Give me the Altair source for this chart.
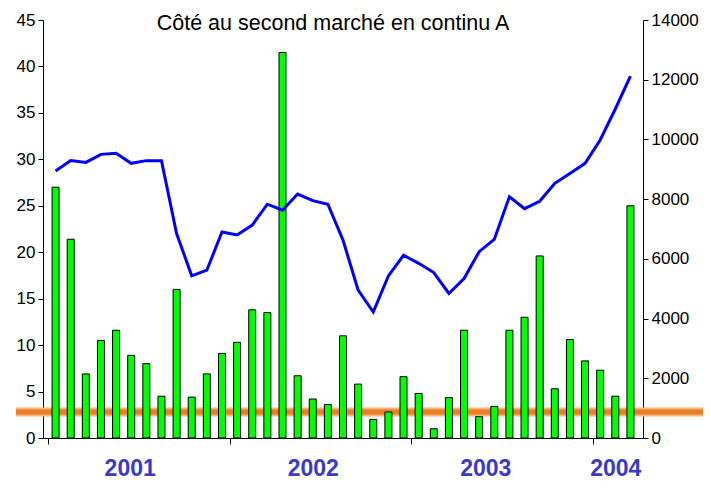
import altair as alt
import pandas as pd

# Monthly data, Jan 2001 .. Mar 2004
volume = [27.0, 21.4, 6.9, 10.5, 11.6, 8.9, 8.0, 4.5, 16.0, 4.4,
          6.9, 9.1, 10.3, 13.8, 13.5, 41.5, 6.7, 4.2, 3.6, 11.0,
          5.8, 2.0, 2.8, 6.6, 4.8, 1.0, 4.35, 11.6, 2.3, 3.4,
          11.6, 13.0, 19.6, 5.3, 10.6, 8.3, 7.3, 4.5, 25.0]
index_vals = [8940, 9290, 9230, 9500, 9540, 9200, 9290, 9290, 6850, 5430,
              5620, 6900, 6800, 7130, 7830, 7630, 8170, 7950, 7830, 6630,
              4950, 4220, 5430, 6120, 5850, 5540, 4840, 5340, 6240, 6650,
              8080, 7680, 7930, 8530, 8860, 9200, 9980, 11020, 12120]
year_ticks = [0, 12, 24, 36]
year_labels = ["2001", "2002", "2003", "2004"]
year_label_pos = [5.4, 17.5, 28.9, 37.5]
band_level = [2.8]

df = pd.DataFrame({"m": [i + 0.5 for i in range(len(volume))],
                   "vol": volume, "idx": index_vals})
band_df = pd.DataFrame({"lvl": band_level})

FONT = "Liberation Sans"

label_expr = "".join(
    f"datum.value == {p} ? '{l}' : " for p, l in zip(year_label_pos, year_labels)
) + "''"

xscale = alt.Scale(domain=[0, len(volume)], nice=False, zero=False)
x_axis = alt.Axis(
    values=year_ticks + year_label_pos,
    labelExpr=label_expr,
    grid=False,
    domainColor="black",
    tickColor={"condition": {"test": "datum.value % 12 === 0", "value": "black"},
               "value": "transparent"},
    tickSize=6,
    labelFont=FONT,
    labelFontSize=23,
    labelFontWeight="bold",
    labelColor="#3A3AC8",
    labelPadding=13,
    labelFlush=False,
    labelOverlap=False,
    title=None,
)

band_outer = alt.Chart(band_df).mark_rule(
    color="#F6B47A", strokeWidth=9, clip=False
).encode(
    y=alt.Y("lvl:Q", scale=alt.Scale(domain=[0, 45]), axis=None),
    x=alt.value(-27), x2=alt.value(668),
)
band_inner = alt.Chart(band_df).mark_rule(
    color="#EC7E22", strokeWidth=5, clip=False
).encode(
    y=alt.Y("lvl:Q", scale=alt.Scale(domain=[0, 45]), axis=None),
    x=alt.value(-27), x2=alt.value(668),
)

bars = alt.Chart(df).mark_bar(
    color="#00FF00", stroke="black", strokeWidth=1, size=7
).encode(
    x=alt.X("m:Q", scale=xscale, axis=x_axis),
    y=alt.Y("vol:Q", scale=alt.Scale(domain=[0, 45], nice=False),
            axis=alt.Axis(values=list(range(0, 46, 5)), grid=False,
                          domainColor="black", tickColor="black", tickSize=5,
                          labelFont=FONT, labelFontSize=17, labelColor="black",
                          labelPadding=3, title=None, orient="left")),
)

line = alt.Chart(df).mark_line(color="#0000FF", strokeWidth=3).encode(
    x=alt.X("m:Q", scale=xscale),
    y=alt.Y("idx:Q", scale=alt.Scale(domain=[0, 14000], nice=False),
            axis=alt.Axis(values=list(range(0, 14001, 2000)), format="d",
                          grid=False,
                          domainColor="black", tickColor="black", tickSize=5,
                          labelFont=FONT, labelFontSize=17, labelColor="black",
                          labelPadding=3, title=None, orient="right")),
)

chart = alt.layer(band_outer, band_inner, bars, line).resolve_scale(
    y="independent"
).properties(
    width=600,
    height=418,
    padding={"left": 35, "top": 12, "right": 60, "bottom": 42},
    autosize=alt.AutoSizeParams(type="none"),
    background="white",
    title=alt.TitleParams(
        "Côté au second marché en continu A",
        font=FONT, fontSize=21.5, fontWeight="normal", color="black",
        anchor="middle", offset=-23, dx=-10,
    ),
).configure_view(stroke=None)

chart.save("out.html", embed_options={"renderer": "svg", "actions": False})
